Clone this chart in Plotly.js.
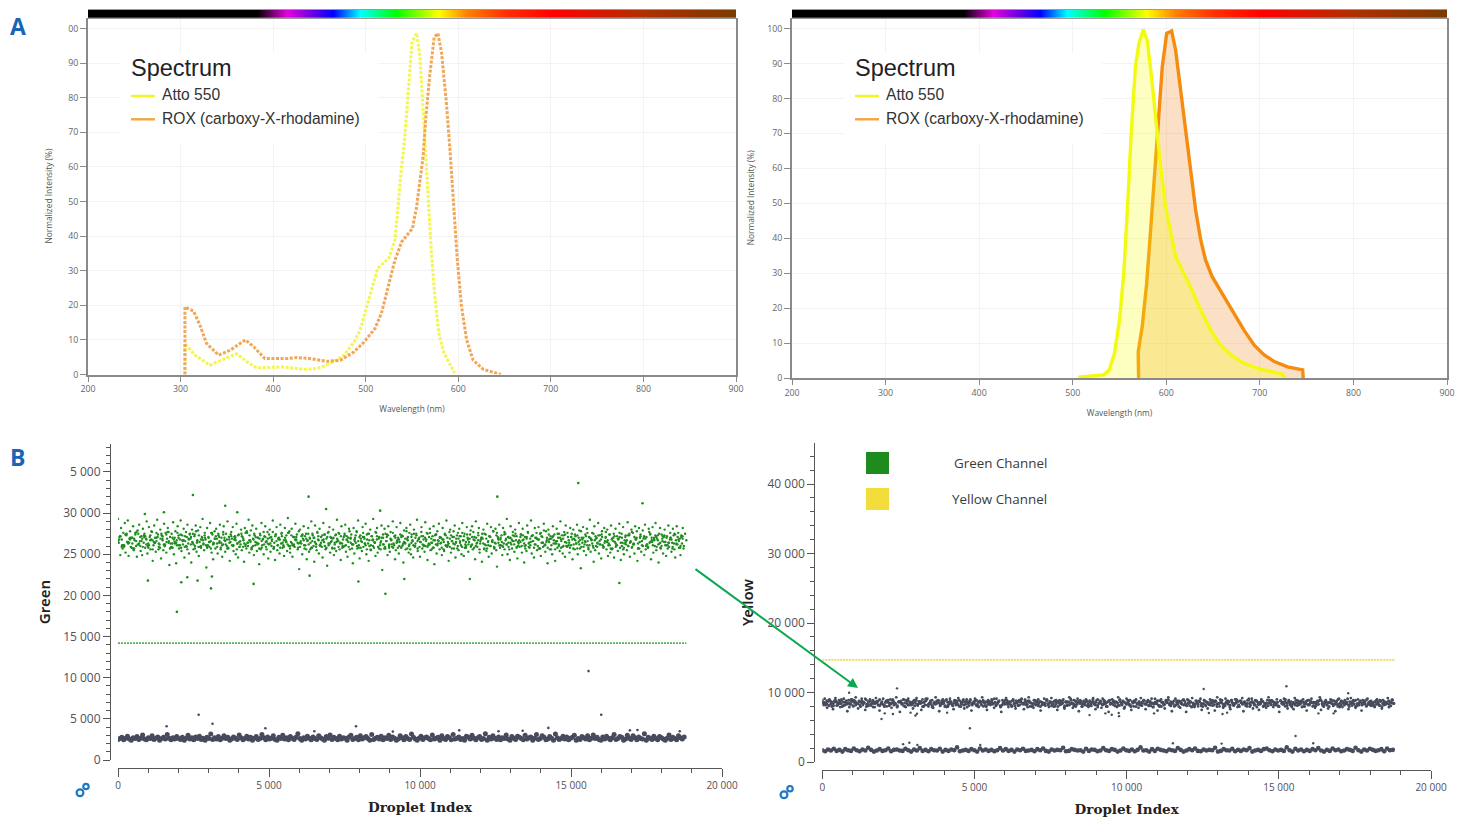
<!DOCTYPE html>
<html>
<head>
<meta charset="utf-8">
<script src="https://cdn.plot.ly/plotly-3.0.1.min.js"></script>
<style>html,body{margin:0;padding:0;background:#fff}#chart{width:1465px;height:817px}</style>
</head>
<body>
<div id="chart"></div>
<script>
// ---- Spectra ----
const excAttoWl=[304.7,304.7,315.5,331.6,346,360.7,371.5,382.4,411,433,447.5,462,476.6,487.5,494,501,508,513,525,531.5,534,538,542,546,550,555,558.5,562,566.5,571,575,579,584.5,596];
const excAttoVal=[0,9,5.6,2.7,4.4,6,3.7,1.9,2.2,1.5,1.7,3.2,5.6,9.4,12.9,19.6,26.4,30.7,33.6,38.9,45.6,58,67.8,81,96,98.6,92,76.5,54.3,35,21.5,12,6.2,0.4];
const excRoxWl=[304.7,304.7,314,321,328,341,353.5,370,379,391,414.7,425.6,440,458,472.6,487,497,510,517,524,531.5,539,550.5,555,558.5,562,565,569,574,578,582,587,591,595,599,603.5,609,616,627,646];
const excRoxVal=[0,19.5,18.3,14.2,9,5.6,7,10,8,4.6,4.6,4.9,4.6,3.8,4.1,6.5,9,13.3,17.7,25.4,33,38.4,42.2,48.5,56,63,74.5,86,97.5,98.6,92.8,79,65,48.5,33,19.6,10,4.2,1.5,0];
const emAttoWl=[506,522.5,533,539,544.6,550,554.6,559,562.5,567,570.7,575.4,579.6,583.9,588.6,594,599.3,604.6,610,617,626,636.8,647.5,658,669,683,701,724.3,726];
const emAttoVal=[0.2,0.6,0.9,2.3,7,16.6,30,51,70,89,95.7,99.7,96.7,87,74.7,60.4,49,41.4,34.7,30.9,26,19.4,13.7,9.4,6.6,4.2,2.5,1.1,0];
const emRoxWl=[570.4,570,574.3,579,582.5,586.8,591,595.7,600.4,605.7,610,615.4,620.7,626,631.4,636.8,642,649,660,672.5,683,694,704.6,715.4,729.6,745.7,746.4];
const emRoxVal=[0,7.5,14.7,27,39.5,55.7,71.9,89,98.6,99.3,93.8,82.4,70,58.5,48,39.5,33.7,29,24.2,18.5,13.7,9.4,6.6,4.7,3.2,2.3,0];

// ---- Rainbow strip above the spectra ----
const stripWl=[200,250,300,350,383,415,440,465,494,533,578,609,650,702,750,800,850,900];
const stripColors=["#000000","#000000","#000000","#000000","#000000","#e800e0","#7000e0","#0000ff","#00ffff","#00ff00","#ffff00","#ff8000","#ff3000","#ff0000","#d81800","#b03000","#963400","#7a3c00"];

// ---- Spectrum tick labels ----
const wlTicks=[200,300,400,500,600,700,800,900];
const pctTicks=[0,10,20,30,40,50,60,70,80,90,100];
const pctLabelsLeft=["0","10","20","30","40","50","60","70","80","90","00"];
const pctLabelsRight=["0","10","20","30","40","50","60","70","80","90","100"];

// ---- Droplet plots: eye-estimated values for the dense clouds, one every dx droplets ----
const greenCloudDx=25;
const greenCloud=[
29300,26400,27100,24900,28200,26800,25700,27600,26100,28800,25200,27300,26500,29100,24800,26900,27800,25900,27000,26300,28400,25500,26700,27400,26000,
24700,27900,26200,28600,26600,25400,27200,24900,28100,26400,27500,25800,26900,29000,25100,26300,28300,27100,25600,26800,27700,24200,26100,28500,27000,
25300,26600,29200,27400,25900,26200,28000,24500,27300,26700,25500,28700,26000,27600,25200,26900,28200,26400,23700,27100,25800,27500,26300,28900,25000,
26500,27800,23900,26100,28400,27000,25700,26800,29100,25400,27300,26200,28100,24600,26600,27700,25900,28600,26300,25100,27400,26900,24000,28000,26400,
25600,27200,26000,28500,25300,26700,27900,24800,26500,28300,25800,27100,29300,26200,25500,27600,26800,23400,28200,26100,27000,25900,28800,26600,25200,
27400,24400,26300,27800,25700,28100,26900,25100,27300,26400,28600,25600,27000,24700,26200,28400,26700,25300,27500,26000,29000,25800,27100,24200,26500,
27700,26100,28300,25400,26800,27200,25000,28700,26300,24600,27400,25900,26600,28000,25500,27100,26900,24100,28200,26200,25700,27600,26400,29200,25200,
26700,27900,25800,28500,26000,24900,27300,26500,28100,25400,27000,26300,23800,27500,25600,28800,26100,26900,25000,27200,28400,25900,26600,27700,24500,
26200,28000,25300,27100,26800,29100,25700,26400,24300,27400,28300,25500,26900,27000,25100,28600,26300,27600,25800,26100,24800,28200,26700,27300,25400,
29400,26000,27800,25200,26500,28100,24700,27100,26200,25900,28700,26800,27400,25600,26300,23200,28000,26600,27200,25000,26900,28400,25700,26100,27500,
24400,26700,28200,25300,27000,26400,29000,25800,27300,26000,24100,28500,26300,25500,27700,26800,25100,28100,26200,27100,25900,24600,28800,26500,27400,
25600,26900,23600,27600,26100,28300,25200,27000,26600,25700,28000,24900,26400,27300,25400,29200,26700,25900,27500,26300,24300,28400,25800,26800,27100,
26000,28600,25300,27200,24700,26500,28100,25600,26900,27400,26200,23900,28200,25100,27000,26400,27800,25700,29100,26100,24500,27300,26600,25400,28300,
25900,27100,26300,28700,25000,26800,27500,24200,26000,28000,25500,27200,26700,29300,25800,26400,24800,27600,28200,25200,26900,27000,26100,25600,28500,
23100,27400,26200,28100,25700,26600,27100,24900,28400,26000,25300,27700,26800,25900,29000,26300,27200,24400,25500,28300,26700,27000,25100,26500,28800,
25800,27300,26100,24000,27900,26400,25600,28200,26900,27100,25200,26200,28600,25000,27400,26700,24600,28000,25900,26300,27500,29200,25400,26800,27000,
24700,26500,28300,25700,27200,26000,25300,28900,26600,27600,24300,26100,27100,28100,25500,26900,26400,25800,28400,23800,27300,26200,25100,27800,26700,
28700,25600,26300,27000,24900,28200,26800,25400,27400,26100,29100,25900,26500,24200,27700,28000,25200,26600,27100,26300,25700,28500,24600,26900,27300,
26000,25500,28100,26400,27200,25000,28800,26700,24800,27500,26200,25800,28300,27000,25300,26500,22000,27900,26100,28400,25600,26800,27100,24400,29000,
26300,25900,27600,28200,25200,26600,27000,24100,26900,28000,25700,26200,27400,25400,28700,26500,24700,27200,26000,28300,25100,26700,27800,25900,26400,
28100,25500,23500,27100,26800,28600,25800,26100,27300,24900,28200,26300,25600,27500,26900,29300,25000,26400,27000,24300,28400,26200,25700,27700,26600,
25300,28000,26700,27200,24500,26000,28800,25900,26500,27400,25200,28100,26800,24000,27100,26100,25400,28500,27600,26300,25800,26900,29100,25100,27300,
26600,24600,28200,26200,27000,25500,26800,28300,25700,27500,24800,26400,27100,25900,28700,26100,25300,27800,26700,23900,28000,26500,25600,27200,26900,
25000,28400,26300,27400,24200,26600,28100,25800,27000,26200,25400,29000,26800,27300,25100,26000,27700,24700,28500,26400,25900,27100,26700,25200,28200,
26100,27500,24400,28000,26900,25600,27200,26300,28600,25000,26500,27900,25700,23300,27000,26800,28300,25400,26200,27400,24900,28100,26600,25800,27100,
29200,25300,26700,27600,26000,24100,28400,25500,26900,27000,26400,28800,25100,27300,26200,24500,27800,26100,25900,28200,26600,27100,25600,28000,24800,
26300,27400,25200,28500,26800,25700,27000,24600,26500,28100,26100,27200,25400,26900,28700,25800,24300,27500,26400,28300,25000,26700,27100,26200,25500,
28900,26000,27300,24700,26600,28000,25900,27600,26300,25100,28400,26800,27000,24200,25700,28200,26500,27200,25300,26100,27900,26900,24900,28600,25600,
27100,26200,25800,28100,26400,27500,24400,26700,28300,25200,27000,26000,28800,25500,26900,27300,24000,26300,28200,25700,27400,26600,25100,27100,28000,
26500,24800,27200,26100,28500,25900,26800,27000,25300,26400,28100,27300,25600,24600,26700,28400,26200,27600,25800,26900,24900,27100,26300,28200,25700
];
const greenCoreDx=41;
const greenCore=[
26700,26800,27200,25900,26100,26000,27400,27500,26500,26400,27000,25800,25700,26900,27600,27700,26200,26300,27100,26600,
25900,27300,27200,26800,26000,26100,26700,27800,25600,26500,26400,27000,27100,26300,25800,27500,26900,26200,26200,27400,
27700,26600,25700,25900,27000,26800,26300,26400,27600,27300,26100,25800,26700,26700,27200,26000,25600,26900,27500,27100,
26500,26200,27400,27800,26600,25900,25900,26800,27000,26300,27300,26100,26000,27100,26500,25700,27600,26400,26900,27200,
26300,27500,26600,25800,26100,27700,27000,26200,26800,25700,26400,27400,26900,26000,27100,26700,25600,27300,26500,26200,
27200,25900,26300,27600,27800,26000,26700,26500,25800,26900,27500,26100,26400,27000,25700,27300,26600,26800,26200,27100,
25600,26900,27400,26300,26000,27700,25900,27200,26600,26100,26800,25800,27500,26400,26700,27000,26500,26200,27600,25700,
27300,26100,26000,26800,27100,26400,27800,25900,26300,27400,26700,27200,25600,26600,26200,26900,25800,27500,27000,26500,
25900,27600,26700,26100,26400,27300,26800,26000,25700,27100,27700,26300,26500,25800,27000,26200,27400,26900,26600,25600,
27200,26300,25900,27500,26100,26700,27000,27800,26400,25700,26200,26800,27300,26000,26600,27100,25800,26500,27600,26900,
26100,27400,26300,26700,25600,27200,26000,26500,27700,26800,25900,27100,26400,27000,26200,25700,27500,26600,27300,25800,
26900,26200,27600,26100,27000,26400,25800,26800,27400,25900,27200,26500,26300,27800,26700,26000,25600,27100,26600,27500,
26000,27300,25700,26900,26500,27700,26200,26100,27000,26800,25900,26300,27600,26400,27200,25800,26700,27400,26100,26600,
27100,26400,26800,25600,27500,26000,27000,26300,25900,27300,26600,27800,26200,26500,25700,26900,27200,26100,27600,26700,
25800,26500,27400,26200,26900,25900,27100,27700,26700,26000,26400,27300,25600,26800,27000,26300,27500,26100,25700,26600,
27200,26000,26600,27800,25800,26300,27600,26900,26100,27000,26500,25900,27400,26700,26200,27100,25600,26400,26800,27300,
26200,27500,25900,26500,26700,27100,26000,27300,26300,25700,26900,27700,26400,26100,27200,26600,25800,27000,27600,26000,
26800,25700,27200,26400,27900,26200,26500,25800,27400,26900,26100,27100,26700,25600,26300,27500,26000,27000,26600,25900,
27300,26500,26000,27600,26100,25800,27100,26800,26200,27400,26300,25700,27000,26700,27800,26400,25900,26600,27200,26100,
25600,27000,26900,26300,27500,26700,26000,25900,27300,26200,26800,27100,25800,26400,27700,26500,26100,27400,25700,26900,
26600,27200,25900,26100,26800,27600,26400,27000,25600,26300,27300,26700,26000,27500,26500,25800,26200,27100,26900,27800,
26300,25700,27400,26600,26000,27100,26900,26200,25800,27700,26500,27000,26100,26800,27300,25900,26700,27500,26400,26000,
27200,26500,26100,27000,25700,26400,27600,26800,25900,26300,27400,26200,27100,26600,25800,27300,26900,26000,27500,26700
];
const greenCore2Dx=67;
const greenCore2=[
26500,27200,26100,25900,27400,26300,26800,27000,25700,26600,27500,26000,26900,27100,26200,25800,27300,26700,26400,27600,
25600,26900,27200,26000,26500,27700,26300,25800,27000,26700,26100,27400,26600,25900,27100,26800,26200,27500,25700,26400,
27300,26000,26700,27000,25800,26500,27600,26200,26900,25900,27100,26400,27400,26600,25700,26800,27200,26100,27000,26300,
25900,27500,26700,26000,26400,27300,25600,26800,27100,26200,26900,25800,27700,26500,26300,27000,26600,25700,27400,26100,
26800,27200,25900,26500,27600,26000,26300,27100,26700,25800,26400,27300,26100,26900,27500,25600,26600,27000,26200,27200,
26000,26700,27400,25800,26300,27100,26900,25700,26500,27600,26400,26000,27300,26800,25900,27000,26200,26600,27700,25800,
26900,27100,26300,25600,27500,26100,26800,26400,27200,25700,26600,27000,25900,27400,26200,26700,25800,27300,26500,26000,
27100,26300,26900,25700,27600,26400,26100,27000,26600,25900,27200,26800,26000,27500,26200,25600,26700,27400,26300,27000,
25800,26500,27300,26100,26900,25700,27100,26400,27600,26600,25900,27200,26000,26800,27400,26200,25800,27000,26700,26300,
27500,25600,26900,26100,27100,26500,25700,27300,26400,26800,26000,27700,26200,25900,27000,26600,27200,25800,26300,27400,
26700,26000,27100,25900,26500,27300,26200,26900,25700,27600,26400,26100,27000,26800,25600,27200,26300,26600,27500,25800,
26900,27400,26000,26400,27100,25700,26700,27300,26200,25900,27000,26500,27600,26100,26800,25800,27200,26300,26600,27400,
25900,27000,26700,26100,25600,27500,26300,26900,27100,26000,25800,26500,27300,26400,27700,26200,26800,25700,27000,26600,
27200,26000,25900,27400,26500,26700,27100,26200,25800,26900,27300,26100,26400,27000,25700,27500,26300,26800,26000,27200
];
const greenOutlierX=[2480,6310,3550,6890,8680,3950,1520,890,1950,990,2095,2295,2635,3080,3110,4490,6345,7960,8855,15240,12560,17370,9480,16600];
const greenOutlierY=[32200,32000,30900,30500,30300,30100,30100,29900,18000,21800,21600,22200,21800,20850,22300,21400,22400,21700,20200,33660,32000,31200,22000,21500];
const greenThresholdX=[0,18820];
const greenThresholdY=[14200,14200];

const greenNegDx=62.7;
const greenNeg=[
2500,2600,2750,2450,2650,2900,2550,2400,2700,2600,2850,2500,2650,3050,2550,
2450,2700,2600,2950,2500,2650,2800,2400,2600,2750,2550,3100,2650,2450,2700,
2550,2850,2600,2500,2750,2400,2650,3000,2550,2700,2450,2800,2600,2900,2500,
2650,2400,2750,2600,3150,2500,2700,2550,2850,2450,2650,2950,2600,2750,2400,
2550,2800,2650,2500,3050,2700,2450,2600,2900,2550,2750,2400,2650,2850,2500,
2600,3100,2700,2450,2800,2550,2650,2950,2500,2400,2750,2600,3000,2550,2700,
2450,2850,2650,2500,2750,3200,2600,2400,2700,2550,2900,2650,2450,2800,2600,
2500,2950,2700,2550,2400,2850,2650,3050,2500,2750,2600,2450,2900,2550,2700,
2650,2400,2800,3000,2500,2600,2750,2450,2950,2550,2700,2850,2600,2400,3100,
2500,2650,2750,2550,2900,2450,2700,2600,3000,2500,2800,2650,2400,2550,2950,
2700,2450,2850,2600,2500,3150,2750,2550,2400,2650,2900,2500,2700,2800,2600,
2450,3050,2550,2650,2750,2400,2950,2600,2500,2850,2700,2450,3100,2550,2650,
2800,2500,2600,2400,2900,2750,2550,3000,2650,2450,2700,2850,2500,2600,3200,
2400,2750,2550,2950,2650,2500,2800,2450,2700,2600,3050,2550,2400,2850,2650,
2500,2900,2750,2600,2450,3000,2550,2700,2800,2400,2650,3100,2500,2600,2950,
2750,2450,2550,2850,2650,2400,3150,2700,2500,2600,2900,2550,2800,2450,2650,
2750,3000,2400,2600,2500,2850,2700,2550,2950,2450,2650,3050,2600,2750,2500,
2400,2800,2550,2900,2650,2450,2700,3100,2500,2600,2850,2750,2400,2550,3000,
2650,2500,2950,2700,2450,2800,2600,2550,3200,2400,2750,2650,2500,2900,2600,
2450,2850,2700,2550,2400,2650,3050,2500,2750,2600,2450,2950,2700,2550,2800
];
const greenNegOutlierX=[2670,3130,1610,4880,7880,14250,15580,16000,11300,12600,13400,16950,17200,18600,6500,9100];
const greenNegOutlierY=[5500,4400,4100,3850,4100,3900,10800,5500,3600,3500,3550,3600,3650,3500,3500,3450];

const yellowPosDx=39.2;
const yellowPos=[
8900,8200,9100,8500,7800,8700,9000,8300,8600,7600,8800,9200,8100,8500,8900,7900,8400,8700,9100,8200,
8600,7300,8900,8300,8700,9000,8000,8500,9300,8400,7700,8800,8600,9100,8200,8500,7500,8900,8300,8700,
9000,8100,8600,8400,7900,9200,8500,8800,7400,8300,8700,9100,8200,8600,8000,8900,8400,9000,7800,8500,
8700,8300,9300,8100,8600,7200,8800,8400,9000,8500,7900,8700,9100,8200,8600,8300,7700,8900,8500,9200,
8100,8700,8400,7500,9000,8600,8200,8800,9100,8000,8500,8300,8900,7800,8600,9300,8400,8700,7300,8200,
8800,9000,8500,8100,7900,8600,8300,9100,8700,8400,7600,8900,8200,8500,9200,8000,8700,8300,8800,7700,
8600,9000,8400,8100,8900,7400,8500,8700,9100,8200,8300,7900,8800,8600,9300,8000,8400,8700,7500,8900,
8500,8200,9000,8300,7800,8600,9100,8400,8700,8100,7200,8900,8500,8300,9200,8600,7900,8700,8200,8800,
9000,8400,7700,8500,8100,8900,8600,9100,8300,7600,8700,8200,8800,9300,8000,8500,8400,7800,8900,8600,
8300,9000,8700,7400,8200,8500,9100,8100,8800,8400,7900,8600,9200,8300,8700,8000,8900,7500,8500,8200,
8800,8400,9000,7700,8600,8100,8700,9300,8300,8500,7800,8900,8200,8600,9100,7300,8400,8700,8000,8800,
8500,9000,8100,7900,8700,8300,8600,9200,8400,7600,8900,8200,8500,8800,7800,9100,8300,8700,8000,8600,
7200,8900,8400,9000,8200,8500,8700,7900,9300,8100,8600,8300,8800,7700,8500,9100,8400,8200,8900,7500,
8700,8000,8600,9000,8300,7800,8500,9200,8100,8800,8400,7600,8700,8900,8200,8500,9100,7900,8300,8600,
8400,7400,8800,8100,9000,8600,8300,7700,8900,8500,9300,8200,8700,7300,8400,8000,9100,8600,8300,8800,
7800,8500,8900,8200,8700,7200,9000,8400,8100,8600,9200,8300,7900,8800,8500,8000,8700,9100,7500,8400,
8900,8200,8600,7700,8300,9000,8500,8100,8800,7400,8700,9300,8400,8000,8600,8900,7800,8200,9100,8500,
8300,8700,7600,8900,8400,8100,9000,8600,7900,8200,8800,8500,9200,7300,8700,8300,8000,8900,8400,8600,
9100,7700,8500,8200,8800,8600,7500,8300,9000,8700,8100,8400,7800,8900,9300,8500,8200,8700,7900,8600,
8300,9000,8100,7200,8800,8400,8600,9100,8000,8500,7700,8900,8200,8700,8300,7600,9200,8500,8100,8800,
8600,8400,7900,9000,8300,8700,7400,8200,8900,8500,9100,8000,8600,7800,8400,8800,8300,9300,7500,8700,
8100,8500,8900,8200,7700,8600,9000,8400,8300,8800,7300,8700,8000,9100,8500,8200,7900,8600,8900,8400,
8300,7600,8700,9200,8100,8500,8800,7800,8400,9000,8200,8600,7400,8900,8300,8700,8000,9100,8500,8200,
8800,8400,8600,7900,8300,9000,8500,8100,8700,7700,8900,8200,8600,8400,9200,8300,8700,8500,8900,8400
];
const yellowCoreDx=52.3;
const yellowCore=[
8500,8600,8200,8300,8900,8800,8000,8100,8700,8600,8400,8400,9000,8100,8200,8800,8500,7900,8300,8700,
8900,8200,8400,8700,8000,8500,8600,9100,8300,8100,8800,8400,7900,8600,8700,8200,9000,8500,8300,8000,
8600,8800,8100,8500,8900,8200,8400,7900,8700,8600,8300,9000,8000,8400,8800,8500,8200,8700,8100,8900,
8300,8500,8700,8000,8600,9100,8200,8400,8800,7900,8500,8300,8700,8900,8100,8600,8400,8000,9000,8200,
8700,8400,8100,8800,8500,8300,8900,8000,8600,8200,8700,7900,8500,9000,8300,8400,8800,8100,8600,8700,
8200,8900,8500,8000,8300,8700,8600,8400,9100,8100,8500,8800,7900,8200,8700,8400,8900,8300,8600,8000,
8800,8100,8500,8700,8200,9000,8400,8300,8600,7900,8800,8500,8100,8900,8200,8700,8400,8000,8600,8300,
8500,9000,8200,8700,8100,8400,8800,8600,8000,8900,8300,8500,7900,8700,8200,8600,9100,8400,8100,8800,
8300,8600,8900,8000,8500,8200,8700,8400,8800,8100,9000,8300,8600,7900,8500,8700,8200,8900,8400,8000,
8700,8300,8500,8800,8100,8600,8200,9000,8400,8700,7900,8500,8900,8300,8100,8600,8800,8000,8400,8700,
8200,8500,8900,8300,8600,8100,8700,8400,7900,9100,8500,8200,8800,8000,8600,8300,8700,8900,8400,8100,
8600,8800,8200,8500,8000,8700,8300,9000,8400,8100,8900,8600,7900,8500,8200,8800,8300,8700,8400,8000,
8900,8100,8600,8300,8700,8500,8200,8800,8000,8400,9000,8500,8300,8100,8700,8600,7900,8900,8200,8400,
8500,8700,8000,8800,8300,8600,8100,8400,9100,8200,8700,8500,8900,7900,8300,8600,8800,8000,8400,8500,
8100,8900,8300,8700,8400,8200,8600,8000,8800,8500,8300,9000,8100,8700,8400,7900,8600,8200,8900,8500,
8300,8800,8600,8000,8400,8900,8200,8700,8500,8100,8600,8300,8800,9000,8400,8000,8700,8200,8500,8600,
8900,8100,8400,8700,8300,7900,8800,8500,8200,8600,9100,8000,8400,8700,8300,8900,8100,8500,8800,8200,
8600,8400,9000,8300,8700,8100,8500,8000,8900,8600,8200,8800,8400,8700,8300,8500,7900,8600,9000,8400
];
const yellowCore2Dx=72.4;
const yellowCore2=[
8600,8300,8800,8100,8500,8400,8900,8200,8700,8000,8600,8300,8500,9000,8100,8700,8400,8200,8800,8500,
8000,8600,8300,8900,8400,8700,8100,8500,8200,8800,8600,8300,9000,8400,8000,8700,8500,8100,8900,8200,
8600,8400,8800,8300,8700,8500,8000,8900,8200,8600,8100,8400,8800,8500,8300,8700,8900,8000,8600,8200,
8500,8800,8100,8400,9000,8300,8700,8600,8200,8500,8900,8000,8400,8700,8100,8600,8300,8800,8500,8200,
8700,8000,8500,8900,8300,8600,8100,8400,8800,8200,8700,8500,9000,8300,8600,8000,8400,8800,8100,8700,
8500,8200,8900,8400,8600,8000,8300,8700,8500,8800,8100,8600,8200,8900,8400,8000,8700,8500,8300,8600,
8800,8100,8400,8700,8200,9000,8500,8300,8600,8000,8800,8400,8700,8100,8500,8900,8200,8600,8300,8700,
8000,8500,8800,8400,8200,8600,8900,8300,8700,8100,8500,8400,8800,8000,8600,8200,8700,9000,8300,8500,
8100,8800,8600,8400,8900,8200,8500,8700,8000,8300,8600,8800,8100,8400,8700,8500,8200,8900,8600,8300,
8400,8700,8000,8500,8800,8200,8600,8300,9000,8100,8700,8400,8500,8900,8000,8600,8200,8800,8300,8500,
8700,8100,8400,8600,8900,8200,8500,8000,8800,8300,8700,8400,8600,8100,8500,8900,8200,8700,8000,8400,
8800,8300,8600,8500,8100,8700,8900,8200,8400,8600,8000,8500,8800,8300,9000,8100,8700,8400,8600,8200,
8500,8900,8000,8300,8700,8400,8800,8100,8600,8500,8200,8700,8300,8900,8000,8400,8600,8800,8100,8500
];
const yellowPosOutlierX=[2455,880,1945,3060,15250,12530,9750,17280,8780,13150,2050,2320,2900,3110,4100,9300,9510,9740,10900,12700,13300,16300,16800];
const yellowPosOutlierY=[10600,9970,6190,6700,10900,10500,6600,9900,6750,6900,7000,6900,7100,6950,7100,7000,6800,7050,7000,7050,7100,7000,7000];
const yellowThresholdX=[0,18830];
const yellowThresholdY=[14700,14700];

const yellowNegDx=94.2;
const yellowNeg=[
1700,1550,1800,1650,1900,1600,1750,1500,1850,1700,
1600,1950,1700,1550,1800,1650,2050,1750,1500,1650,
1850,1600,1700,1950,1550,1750,1800,1650,1600,1900,
1700,1500,1800,1650,2000,1600,1750,1550,1850,1700,
1650,1900,1500,1750,1600,1800,1700,2100,1550,1650,
1750,1600,1850,1700,1500,1950,1650,1800,1600,1750,
1550,1700,2000,1650,1850,1600,1750,1500,1800,1700,
1900,1600,1650,1750,1550,1850,1700,1950,1600,1500,
1800,1650,1750,1700,2050,1550,1600,1850,1750,1650,
1700,1500,1900,1600,1800,1750,1550,1650,2000,1700,
1600,1850,1750,1500,1650,1950,1700,1600,1800,1550,
1750,2100,1650,1700,1500,1850,1600,1900,1750,1650,
1550,1800,1700,1600,2000,1750,1500,1650,1850,1700,
1950,1600,1550,1800,1650,1750,1700,2050,1500,1600,
1850,1700,1650,1900,1550,1750,1600,1800,1700,2000,
1500,1650,1750,1600,1850,1950,1700,1550,1800,1650,
1750,1600,2100,1700,1500,1900,1650,1800,1550,1750,
1600,1850,1700,2000,1650,1500,1750,1600,1950,1700,
1800,1550,1650,1850,1750,1600,2050,1700,1500,1800,
1650,1900,1750,1600,1700,1850,1550,1950,1700,1750
];
const yellowNegOutlierX=[4850,2860,2655,3125,5190,15550,11520,13120,16130];
const yellowNegOutlierY=[4850,2780,2570,2450,2450,3740,2700,2650,2700];

// ---- Droplet tick labels ----
const dropletTicks=[0,5000,10000,15000,20000];
const dropletLabels=["0","5 000","10 000","15 000","20 000"];
const greenTicks=[0,5000,10000,15000,20000,25000,30000,35000];
const greenLabels=["0","5 000","10 000","15 000","20 000","25 000","30 000","5 000"];
const yellowTicks=[0,10000,20000,30000,40000];
const yellowLabels=["0","10 000","20 000","30 000","40 000"];

// ---- Helpers turning page pixels into paper fractions ----
const W=1465,H=817;
const fx=p=>p/W, fy=p=>1-p/H;
const specGrey="#8a8a8a", specText="#666666", dropAxis="#565656", dropText="#544e5a";
const sansSmall="'Open Sans', sans-serif";

function specX(anchor,x0,x1,title,standoff){return {anchor:anchor,domain:[fx(x0),fx(x1)],range:[200,900],tickmode:"array",tickvals:wlTicks,ticktext:wlTicks.map(String),
  ticks:"outside",ticklen:5,tickcolor:specGrey,showline:true,linecolor:specGrey,linewidth:2,showgrid:true,gridcolor:"#f3f3f3",zeroline:false,
  tickfont:{family:sansSmall,size:8.8,color:specText},title:{text:title,font:{family:sansSmall,size:8.3,color:"#555"},standoff:standoff}};}
function specY(anchor,y0,y1,top,labels,title,standoff){return {anchor:anchor,domain:[fy(y0),fy(y1)],range:[0,top],tickmode:"array",tickvals:pctTicks,ticktext:labels,
  ticks:"outside",ticklen:6,tickcolor:specGrey,showline:true,linecolor:specGrey,linewidth:2,mirror:true,showgrid:true,gridcolor:"#f3f3f3",zeroline:false,
  tickfont:{family:sansSmall,size:8.8,color:specText},title:{text:title,font:{family:sansSmall,size:8.4,color:"#555"},standoff:standoff}};}
function stripAxisX(anchor,x0,x1){return {anchor:anchor,domain:[fx(x0),fx(x1)],range:[200,900],showticklabels:false,ticks:"",showgrid:false,zeroline:false,showline:true,mirror:true,linecolor:"#999",linewidth:1};}
function stripAxisY(anchor){return {anchor:anchor,domain:[fy(17.7),fy(10)],range:[0,1],showticklabels:false,ticks:"",showgrid:false,zeroline:false,showline:false};}
function dropX(x0,x1,pos,standoff){return {domain:[fx(x0),fx(x1)],range:[0,20000],anchor:"free",position:fy(pos),tickmode:"array",tickvals:dropletTicks,ticktext:dropletLabels,
  ticks:"outside",ticklen:8,tickcolor:dropAxis,showline:true,linecolor:dropAxis,linewidth:1,showgrid:false,zeroline:false,
  minor:{tickmode:"linear",tick0:0,dtick:1000,ticks:"outside",ticklen:4,tickcolor:dropAxis,showgrid:false},
  tickfont:{family:sansSmall,size:10,color:dropText},
  title:{text:"Droplet Index",font:{family:"'DejaVu Serif', serif",size:13.5,color:"#222",weight:700},standoff:standoff}};}
function dropY(y0,y1,top,pos,vals,labels,minorStep,title,standoff){return {domain:[fy(y0),fy(y1)],range:[0,top],anchor:"free",position:fx(pos),tickmode:"array",tickvals:vals,ticktext:labels,
  ticks:"outside",ticklen:7,tickcolor:dropAxis,showline:true,linecolor:dropAxis,linewidth:1,showgrid:false,zeroline:false,
  minor:{tickmode:"linear",tick0:0,dtick:minorStep,ticks:"outside",ticklen:4,tickcolor:dropAxis,showgrid:false},
  tickfont:{family:sansSmall,size:12,color:dropText},
  title:{text:title,font:{family:"'Noto Sans', sans-serif",size:15,color:"#222",weight:600},standoff:standoff}};}

function strip(xa,ya){
  const n=stripWl.length-1, span=stripWl[n]-stripWl[0];
  return {type:"heatmap",x:stripWl,y:[0,1],z:[stripWl,stripWl],xaxis:xa,yaxis:ya,zsmooth:"best",showscale:false,hoverinfo:"skip",zmin:200,zmax:900,
    colorscale:stripWl.map((w,i)=>[(w-stripWl[0])/span,stripColors[i]])};
}
function dots(dx,y,color,size,xa,ya){return {type:"scatter",mode:"markers",x0:0,dx:dx,y:y,xaxis:xa,yaxis:ya,marker:{color:color,size:size},hoverinfo:"skip"};}
function pts(x,y,color,size,xa,ya){return {type:"scatter",mode:"markers",x:x,y:y,xaxis:xa,yaxis:ya,marker:{color:color,size:size},hoverinfo:"skip"};}
function thresh(x,y,color,xa,ya){return {type:"scatter",mode:"lines",x:x,y:y,xaxis:xa,yaxis:ya,line:{color:color,width:1.6,dash:"2px,1px"},hoverinfo:"skip"};}
function spec(x,y,color,xa,ya,extra){return Object.assign({type:"scatter",mode:"lines",x:x,y:y,xaxis:xa,yaxis:ya,hoverinfo:"skip"},extra,{line:Object.assign({color:color},extra.line)});}

const darkDot="#474b5b", greenDot="#1e8c1e";
const data=[
  strip("x5","y5"), strip("x6","y6"),
  spec(excAttoWl,excAttoVal,"#f3f64e","x","y",{line:{width:3,dash:"3px,1.6px"}}),
  spec(excRoxWl,excRoxVal,"#f2a657","x","y",{line:{width:3,dash:"3px,1.6px"}}),
  spec(emRoxWl,emRoxVal,"#f58c10","x2","y2",{fill:"tozeroy",fillcolor:"rgba(243,140,40,0.27)",line:{width:3.4}}),
  spec(emAttoWl,emAttoVal,"#f2fa12","x2","y2",{fill:"tozeroy",fillcolor:"rgba(243,255,0,0.25)",line:{width:3.4}}),
  thresh(greenThresholdX,greenThresholdY,"#55b455","x3","y3"),
  dots(greenCloudDx,greenCloud,greenDot,2.4,"x3","y3"),
  dots(greenCoreDx,greenCore,greenDot,2.4,"x3","y3"),
  dots(greenCore2Dx,greenCore2,greenDot,2.4,"x3","y3"),
  pts(greenOutlierX,greenOutlierY,greenDot,2.6,"x3","y3"),
  dots(greenNegDx,greenNeg,darkDot,5,"x3","y3"),
  pts(greenNegOutlierX,greenNegOutlierY,darkDot,2.6,"x3","y3"),
  thresh(yellowThresholdX,yellowThresholdY,"#f2da40","x4","y4"),
  dots(yellowPosDx,yellowPos,darkDot,2.8,"x4","y4"),
  dots(yellowCoreDx,yellowCore,darkDot,3,"x4","y4"),
  dots(yellowCore2Dx,yellowCore2,darkDot,3,"x4","y4"),
  pts(yellowPosOutlierX,yellowPosOutlierY,darkDot,2.4,"x4","y4"),
  dots(yellowNegDx,yellowNeg,darkDot,4.6,"x4","y4"),
  pts(yellowNegOutlierX,yellowNegOutlierY,darkDot,2.4,"x4","y4")
];

function legendBox(dx){
  return [
    {type:"rect",xref:"paper",yref:"paper",x0:fx(120+dx),x1:fx(378+dx),y0:fy(143),y1:fy(53),fillcolor:"#fff",line:{width:0},layer:"above"},
    {type:"line",xref:"paper",yref:"paper",x0:fx(131+dx),x1:fx(155+dx),y0:fy(96),y1:fy(96),line:{color:"#f3f320",width:2.4},layer:"above"},
    {type:"line",xref:"paper",yref:"paper",x0:fx(131+dx),x1:fx(155+dx),y0:fy(119.3),y1:fy(119.3),line:{color:"#f7a340",width:2.4},layer:"above"}
  ];
}
function ring(cx,cy,r){return {type:"circle",xref:"paper",yref:"paper",x0:fx(cx-r),x1:fx(cx+r),y0:fy(cy+r),y1:fy(cy-r),fillcolor:"#fff",line:{color:"#2277c4",width:2.2},layer:"above"};}
function swatch(x0,x1,y0,y1,c){return {type:"rect",xref:"paper",yref:"paper",x0:fx(x0),x1:fx(x1),y0:fy(y1),y1:fy(y0),fillcolor:c,line:{width:0},layer:"above"};}

function label(x,y,text,size,color,family,extra){return Object.assign({xref:"paper",yref:"paper",x:fx(x),y:fy(y),text:text,showarrow:false,xanchor:"left",yanchor:"middle",borderpad:0,
  font:{family:family,size:size,color:color}},extra||{});}
const arial="'Liberation Sans', Arial, sans-serif";
function legendText(dx){return [
  label(130+dx,68,"Spectrum",23.5,"#222",arial),
  label(161+dx,95,"Atto 550",15.6,"#333",arial),
  label(161+dx,118,"ROX (carboxy-X-rhodamine)",15.6,"#333",arial)
];}

const layout={
  width:W,height:H,margin:{l:0,r:0,t:0,b:0},paper_bgcolor:"#fff",plot_bgcolor:"rgba(0,0,0,0)",showlegend:false,
  xaxis:specX("y",88,736,"Wavelength (nm)",12),yaxis:specY("x",374.5,17.7,103.1,pctLabelsLeft,"Normalized Intensity (%)",14),
  xaxis2:specX("y2",792,1447,"Wavelength (nm)",12.5),yaxis2:specY("x2",378,17.7,103.1,pctLabelsRight,"Normalized Intensity (%)",11),
  xaxis3:dropX(118,722,768,11),yaxis3:dropY(760,444,38400,110,greenTicks,greenLabels,1000,"Green",7),
  xaxis4:dropX(822.3,1431,770,12),yaxis4:dropY(762,443,45900,814.3,yellowTicks,yellowLabels,2000,"Yellow",9),
  xaxis5:stripAxisX("y5",88,736),yaxis5:stripAxisY("x5"),
  xaxis6:stripAxisX("y6",792,1447),yaxis6:stripAxisY("x6"),
  shapes:[].concat(legendBox(0),legendBox(724),
    [ring(80,792.7,3.4),ring(86,786.5,2.7),ring(784,794.7,3.4),ring(790,788.7,2.7),
     swatch(866,889,452,474,"#1e8b1e"),swatch(866,889,488,510,"#f2dd3a")]),
  annotations:[].concat(legendText(0),legendText(724),[
    label(9,26,"A",23,"#1b63b5","'Open Sans', sans-serif",{font:{family:"'Open Sans', sans-serif",size:23,color:"#1b63b5",weight:700}}),
    label(9,457,"B",23,"#1b63b5","'Open Sans', sans-serif",{font:{family:"'Open Sans', sans-serif",size:23,color:"#1b63b5",weight:700}}),
    label(953,463,"Green Channel",13.4,"#3a3a3a","'Open Sans', sans-serif"),
    label(951,499,"Yellow Channel",13.4,"#3a3a3a","'Open Sans', sans-serif"),
    {xref:"paper",yref:"paper",x:fx(858),y:fy(688),ax:-164,ay:-120,text:"",showarrow:true,arrowhead:2,arrowsize:1,arrowwidth:2,arrowcolor:"#0ba84f"}
  ])
};
Plotly.newPlot("chart",data,layout,{displayModeBar:false,staticPlot:true});
</script>
</body>
</html>
